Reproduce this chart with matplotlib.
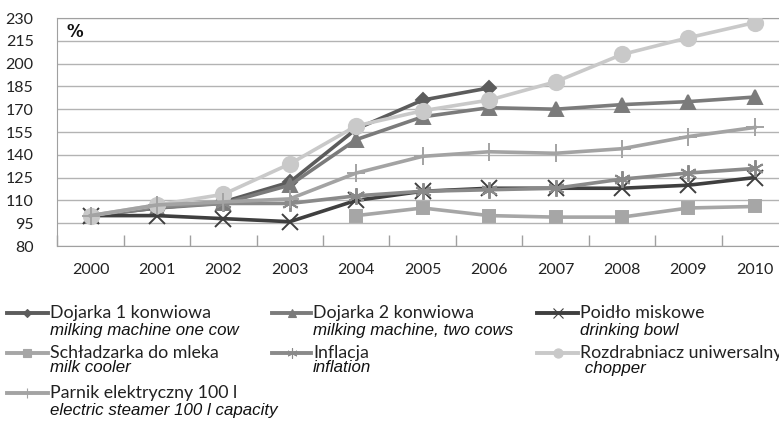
import matplotlib
matplotlib.use("Agg")
import matplotlib.pyplot as plt
from matplotlib.lines import Line2D
import numpy as np

years = ["2000", "2001", "2002", "2003", "2004", "2005", "2006", "2007", "2008", "2009", "2010"]

dojarka1 = [100, 105, 109, 122, 157, 176, 184, None, None, None, None]
dojarka2 = [100, 105, 108, 120, 150, 165, 171, 170, 173, 175, 178]
poidlo = [100, 100, 98, 96, 110, 116, 118, 118, 118, 120, 125]
schladzarka = [None, None, None, None, 100, 105, 100, 99, 99, 105, 106]
inflacja = [100, 106, 108, 108, 113, 116, 117, 118, 124, 128, 131]
rozdrabniacz = [100, 107, 114, 134, 159, 169, 176, 188, 206, 217, 227]
parnik = [100, 107, 109, 111, 128, 139, 142, 141, 144, 152, 158]

pl_labels = ["Dojarka 1 konwiowa", "Dojarka 2 konwiowa", "Poidło miskowe",
             "Schładzarka do mleka", "Inflacja", "Rozdrabniacz uniwersalny",
             "Parnik elektryczny 100 l"]
en_labels = ["milking machine one cow", "milking machine, two cows", "drinking bowl",
             "milk cooler", "inflation", " chopper",
             "electric steamer 100 l capacity"]

series = [dojarka1, dojarka2, poidlo, schladzarka, inflacja, rozdrabniacz, parnik]
colors = ["#5c5c5c", "#7b7b7b", "#3f3f3f", "#a6a6a6", "#8a8a8a", "#c9c9c9", "#a3a3a3"]
markers = ["D", "^", "x", "s", (6, 2, 0), "o", "+"]
msizes = [7, 10, 11, 9, 12, 11, 13]

W, H = 779, 422
fig = plt.figure(figsize=(W / 100, H / 100), dpi=100)
ax = fig.add_axes([57.3 / W, 1 - 246 / H, (788 - 57.3) / W, 228 / H])

x = np.arange(len(years))
# draw lighter series first so the dark ones sit on top, like the original
order = [5, 6, 3, 4, 1, 0, 2]
for i in order:
    y = np.array([np.nan if v is None else v for v in series[i]], dtype=float)
    ax.plot(x, y, color=colors[i], lw=2.6, marker=markers[i], ms=msizes[i],
            mec=colors[i], mfc=colors[i], mew=1.4, zorder=3 + i)

ax.set_xlim(-0.5, 10.5)
ax.set_ylim(80, 230)
ax.set_yticks(np.arange(80, 231, 15))
ax.set_xticks(x)
ax.set_xticklabels(years)
ax.set_xticks(np.arange(-0.5, 10.6, 1), minor=True)
ax.grid(axis="y", color="#b3b3b3", lw=1.0, zorder=0)
ax.tick_params(axis="both", which="major", length=0, labelsize=11.5, labelcolor="#222222")
ax.tick_params(axis="x", which="major", pad=12)
ax.tick_params(axis="y", which="major", pad=17)
ax.tick_params(axis="x", which="minor", direction="in", length=8, color="#a0a0a0", width=1)
for lab in ax.get_xticklabels() + ax.get_yticklabels():
    lab.set_fontfamily("Lato")
for side in ["left", "bottom", "top"]:
    ax.spines[side].set_color("#a0a0a0")
ax.spines["right"].set_visible(False)

ax.text(0.012, 0.94, "%", transform=ax.transAxes, fontsize=12, fontweight="bold",
        family="DejaVu Sans", va="center", ha="left", color="#111111")

# legend drawn by hand: Polish name plus English name in italic underneath
col_x = [(7, 48, 50), (272, 311, 313), (537, 578, 580)]
row_y = [(313, 330), (353, 368), (393, 411)]
for k in range(len(series)):
    r, c = divmod(k, 3)
    x0, x1, xt = col_x[c]
    y_pl, y_en = row_y[r]
    fy = 1 - y_pl / H
    fig.add_artist(Line2D([x0 / W, x1 / W], [fy, fy], transform=fig.transFigure,
                          color=colors[k], lw=2.8))
    fig.add_artist(Line2D([(x0 + x1) / 2 / W], [fy], transform=fig.transFigure,
                          marker=markers[k], ms=msizes[k] * 0.6, color=colors[k],
                          mec=colors[k], mfc=colors[k], mew=0.8, lw=0))
    fig.text(xt / W, fy, pl_labels[k], fontsize=12.8, family="Lato",
             color="#222222", va="center", ha="left")
    fig.text(xt / W, 1 - y_en / H, en_labels[k], fontsize=12.2, family="Liberation Sans",
             style="italic", color="#111111", va="center", ha="left")

fig.savefig("out.png", dpi=100)
